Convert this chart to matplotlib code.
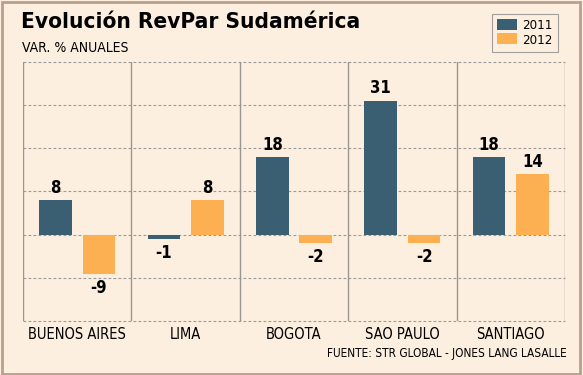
import matplotlib

matplotlib.use("Agg")

import matplotlib.pyplot as plt
import numpy as np
from matplotlib.patches import Patch, Rectangle

cities = ["BUENOS AIRES", "LIMA", "BOGOTA", "SAO PAULO", "SANTIAGO"]
years = ["2011", "2012"]
rev_2011 = [8, -1, 18, 31, 18]
rev_2012 = [-9, 8, -2, -2, 14]

BG = "#FCEFDF"
BLUE = "#3A5E72"
ORANGE = "#FCB052"
FONT = ["DejaVu Sans"]

plt.rcParams["font.family"] = FONT
plt.rcParams["font.stretch"] = "condensed"

fig = plt.figure(figsize=(5.83, 3.75), dpi=100)
fig.patch.set_facecolor(BG)
fig.patches.append(Rectangle((0.004, 0.004), 0.99, 0.992, transform=fig.transFigure,
                             fill=False, edgecolor="#B9A08E", linewidth=2))

ax = fig.add_axes([0.0395, 0.144, 0.9297, 0.6907])
ax.set_facecolor(BG)

x = np.arange(len(cities))
w = 0.30
off = 0.20
ax.bar(x - off, rev_2011, width=w, color=BLUE, zorder=3)
ax.bar(x + off, rev_2012, width=w, color=ORANGE, zorder=3)

for xs, vals in ((x - off, rev_2011), (x + off, rev_2012)):
    for xi, v in zip(xs, vals):
        ax.text(xi, v + (0.8 if v > 0 else -1.2), str(v), ha="center",
                va="bottom" if v > 0 else "top", fontsize=12, fontweight="bold")

ax.set_xlim(-0.5, len(cities) - 0.5)
ax.set_ylim(-20, 40)
for gy in range(-20, 41, 10):
    ax.axhline(gy, color="#9A9A9A", linestyle=(0, (2.5, 2)), linewidth=0.8,
               zorder=1, clip_on=False)
for gx in np.arange(-0.5, len(cities), 1.0):
    ax.axvline(gx, color="#9A9590", linewidth=1.0, zorder=2)

for s in ax.spines.values():
    s.set_visible(False)
ax.set_yticks([])
ax.set_xticks(x)
ax.set_xticklabels(cities, fontsize=10.5)
ax.tick_params(axis="x", length=0, pad=4)

fig.text(0.036, 0.94, "Evolución RevPar Sudamérica", fontsize=16.2, fontweight="bold",
         ha="left", va="center")
fig.text(0.038, 0.873, "VAR. % ANUALES", fontsize=10, ha="left", va="center")
fig.text(0.972, 0.057, "FUENTE: STR GLOBAL - JONES LANG LASALLE", fontsize=8.5,
         ha="right", va="center")

handles = [Patch(facecolor=BLUE, label=years[0]), Patch(facecolor=ORANGE, label=years[1])]
leg = fig.legend(handles=handles, loc="upper right", bbox_to_anchor=(0.957, 0.963),
                 borderaxespad=0, fontsize=9.5, frameon=True, fancybox=False,
                 handlelength=1.5, handleheight=0.9, borderpad=0.4, labelspacing=0.1,
                 handletextpad=0.4)
leg.get_frame().set_facecolor(BG)
leg.get_frame().set_edgecolor("#8A8A8A")
leg.get_frame().set_linewidth(0.8)

fig.savefig("out.png", dpi=100, facecolor=BG)
